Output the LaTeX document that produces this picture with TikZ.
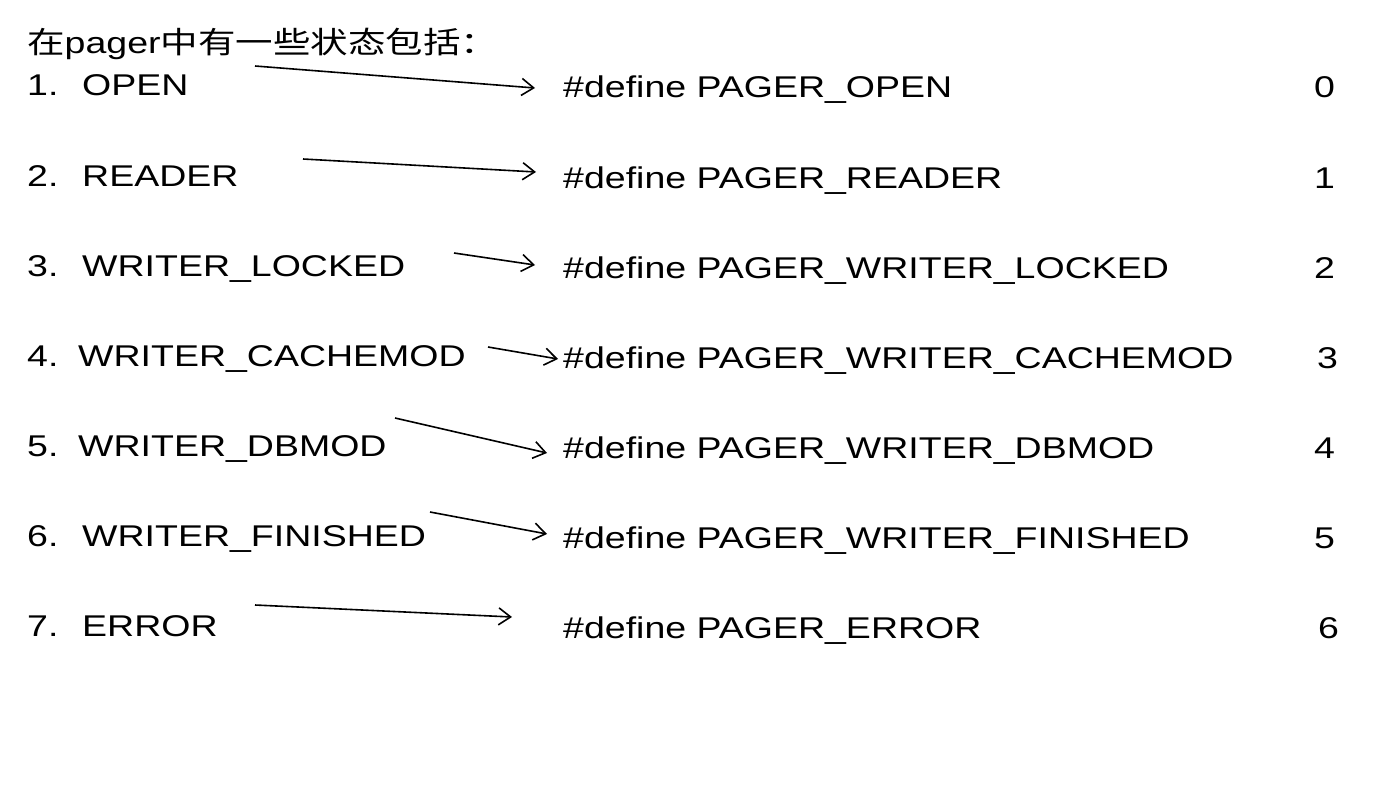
\documentclass[tikz,border=0pt]{standalone}
\usepackage{fontspec}
\setmainfont{Liberation Sans}[FakeStretch=1.25]
\newfontfamily\cjk{Noto Sans CJK SC}[FakeStretch=1.25]
\usetikzlibrary{arrows.meta}
\begin{document}
\begin{tikzpicture}[x=1pt,y=-1pt,
  txt/.style={anchor=base west,inner sep=0pt,font=\fontsize{30}{30}\selectfont},
  conn/.style={line width=1.6pt,-{Straight Barb[length=12pt,width=17pt,line width=1.6pt]}}]
\useasboundingbox (0,0) rectangle (1381,797);
\node[txt] (title) at (27,54) {{\cjk 在}pager{\cjk 中有一些状态包括：}};
% left column
\node[txt] (n1) at (27,96) {1.};  \node[txt] (s1) at (82,96) {OPEN};
\node[txt] (n2) at (27,186) {2.}; \node[txt] (s2) at (82,186) {READER};
\node[txt] (n3) at (27,276) {3.}; \node[txt] (s3) at (82,276) {WRITER\_LOCKED};
\node[txt] (n4) at (27,366) {4.}; \node[txt] (s4) at (78,366) {WRITER\_CACHEMOD};
\node[txt] (n5) at (27,456) {5.}; \node[txt] (s5) at (78,456) {WRITER\_DBMOD};
\node[txt] (n6) at (27,546) {6.}; \node[txt] (s6) at (82,546) {WRITER\_FINISHED};
\node[txt] (n7) at (27,636) {7.}; \node[txt] (s7) at (82,636) {ERROR};
% right column
\node[txt] (d1) at (563,98) {\#define PAGER\_OPEN};
\node[txt] (d2) at (563,188) {\#define PAGER\_READER};
\node[txt] (d3) at (563,278) {\#define PAGER\_WRITER\_LOCKED};
\node[txt] (d4) at (563,368) {\#define PAGER\_WRITER\_CACHEMOD};
\node[txt] (d5) at (563,458) {\#define PAGER\_WRITER\_DBMOD};
\node[txt] (d6) at (563,548) {\#define PAGER\_WRITER\_FINISHED};
\node[txt] (d7) at (563,638) {\#define PAGER\_ERROR};
\node[txt] (v0) at (1314,98) {0};
\node[txt] (v1) at (1314,188) {1};
\node[txt] (v2) at (1314,278) {2};
\node[txt] (v3) at (1317,368) {3};
\node[txt] (v4) at (1314,458) {4};
\node[txt] (v5) at (1314,548) {5};
\node[txt] (v6) at (1318,638) {6};
% arrow endpoints
\coordinate (a1) at (255,66);  \coordinate (b1) at (535,88);
\coordinate (a2) at (303,159); \coordinate (b2) at (536,172);
\coordinate (a3) at (454,253); \coordinate (b3) at (535,265);
\coordinate (a4) at (488,347); \coordinate (b4) at (558,359);
\coordinate (a5) at (395,418); \coordinate (b5) at (547,453);
\coordinate (a6) at (430,512); \coordinate (b6) at (547,534);
\coordinate (a7) at (255,605); \coordinate (b7) at (512,617);
\foreach \i in {1,...,7} \draw[conn] (a\i) -- (b\i);
\end{tikzpicture}
\end{document}
